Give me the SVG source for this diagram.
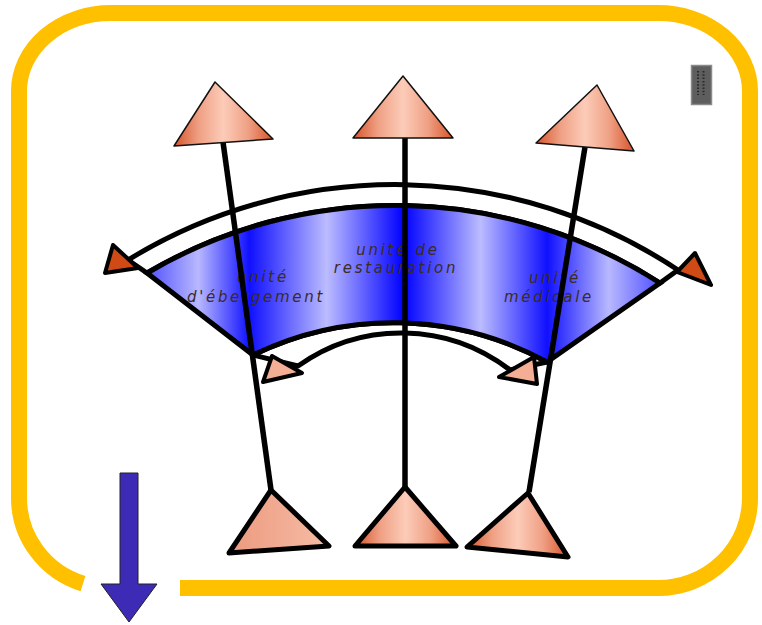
<svg xmlns="http://www.w3.org/2000/svg" width="762" height="625" viewBox="0 0 762 625">
<style>
.lbl{font-family:"DejaVu Sans","Liberation Sans",sans-serif;font-style:italic;font-size:15px;letter-spacing:2.7px;fill:#3b2c22;text-anchor:middle}
.stem{stroke:#000;stroke-width:5.5;stroke-linecap:butt;fill:none}
.topTri{fill:url(#salmon);stroke:#111;stroke-width:1.5;stroke-linejoin:round}
.botTri{fill:url(#salmon);stroke:#000;stroke-width:5;stroke-linejoin:round}
.band{fill:#fff;stroke:#000;stroke-width:5;stroke-linejoin:round}
.headDark{fill:#cf4a15;stroke:#000;stroke-width:4;stroke-linejoin:round}
.headLight{fill:#f4ae96;stroke:#000;stroke-width:4;stroke-linejoin:round}
</style>
<defs>
<linearGradient id="salmon" x1="0" y1="0" x2="1" y2="0">
<stop offset="0" stop-color="#d6532a"/>
<stop offset="0.25" stop-color="#efa084"/>
<stop offset="0.5" stop-color="#fcccb9"/>
<stop offset="0.75" stop-color="#efa084"/>
<stop offset="1" stop-color="#d6532a"/>
</linearGradient>
<linearGradient id="salmonFlat" x1="0" y1="0" x2="1" y2="0">
<stop offset="0" stop-color="#ec9a7e"/>
<stop offset="1" stop-color="#f6bca6"/>
</linearGradient>
<linearGradient id="blueBand" gradientUnits="userSpaceOnUse" x1="147" y1="0" x2="660" y2="0">
<stop offset="0" stop-color="#5050ff"/>
<stop offset="0.1" stop-color="#b8b8ff"/>
<stop offset="0.2" stop-color="#1010ff"/>
<stop offset="0.35" stop-color="#bcbcff"/>
<stop offset="0.5" stop-color="#0000ff"/>
<stop offset="0.65" stop-color="#bcbcff"/>
<stop offset="0.78" stop-color="#1010ff"/>
<stop offset="0.9" stop-color="#b8b8ff"/>
<stop offset="1" stop-color="#5050ff"/>
</linearGradient>
</defs>

<rect width="762" height="625" fill="#fff"/>

<g id="frame">
<path d="M 180 588 H 658 A 92 90 0 0 0 750 498 V 91 A 92 78 0 0 0 658 13 H 111 A 92 78 0 0 0 19 91 V 498 A 92 90 0 0 0 83 583.7" fill="none" stroke="#ffc000" stroke-width="16"/>
</g>

<g id="widget">
<rect x="691.5" y="65.5" width="20" height="39" fill="#5e5e5e" stroke="#8a8a8a" stroke-width="1.5"/>
<line x1="698" y1="71" x2="698" y2="95" stroke="#2a2a2a" stroke-width="2" stroke-dasharray="1.5 1.8"/>
<line x1="703.5" y1="71" x2="703.5" y2="95" stroke="#2a2a2a" stroke-width="2" stroke-dasharray="1.5 1.8"/>
</g>

<g id="connectors">
<path id="outer-band" class="band" d="M 128 260 A 511 511 0 0 1 678 270 L 660 283 A 490 490 0 0 0 147 273 Z"/>
<path id="inner-band" class="band" d="M 253 355 A 320 320 0 0 1 547 362 L 510 370 A 178 178 0 0 0 298 366 Z"/>
</g>

<g id="sector">
<path d="M 147 273 A 490 490 0 0 1 660 283 L 547 362 A 320 320 0 0 0 253 355 Z" fill="url(#blueBand)" stroke="#000" stroke-width="5" stroke-linejoin="miter"/>
</g>

<g id="label-hebergement">
<text class="lbl" x="263" y="282">unité</text>
<text class="lbl" x="256" y="302">d'ébergement</text>
</g>
<g id="label-restauration">
<text class="lbl" x="398" y="255">unité de</text>
<text class="lbl" x="396" y="273">restauration</text>
</g>
<g id="label-medicale">
<text class="lbl" x="555" y="283">unité</text>
<text class="lbl" x="549" y="302">médicale</text>
</g>

<g id="stems">
<line class="stem" x1="223" y1="142" x2="271" y2="490"/>
<line class="stem" x1="405" y1="138" x2="405" y2="487"/>
<line class="stem" x1="585" y1="147" x2="529" y2="492"/>
</g>

<g id="node-top-left"><polygon class="topTri" points="215,82 273,139 174,146"/></g>
<g id="node-top-mid"><polygon class="topTri" points="403,76 453,138 353,138"/></g>
<g id="node-top-right"><polygon class="topTri" points="597,85 634,151 536,143"/></g>

<g id="node-bot-left"><polygon class="botTri" style="fill:url(#salmonFlat)" points="271,490 329,546 229,553"/></g>
<g id="node-bot-mid"><polygon class="botTri" points="405,487 456,546 355,546"/></g>
<g id="node-bot-right"><polygon class="botTri" points="528,493 568,557 467,547"/></g>

<g id="arrowheads">
<polygon class="headDark" points="113,245 138,268 105,273"/>
<polygon class="headDark" points="695,253 711,285 677,272"/>
<polygon class="headLight" points="272,356 302,373 263,382"/>
<polygon class="headLight" points="534,357 537,384 499,377"/>
</g>

<g id="down-arrow">
<path d="M 120 473 H 138 V 584 H 157 L 129 622 L 101 584 H 120 Z" fill="#3d2ab5" stroke="#222" stroke-width="1"/>
</g>
</svg>
